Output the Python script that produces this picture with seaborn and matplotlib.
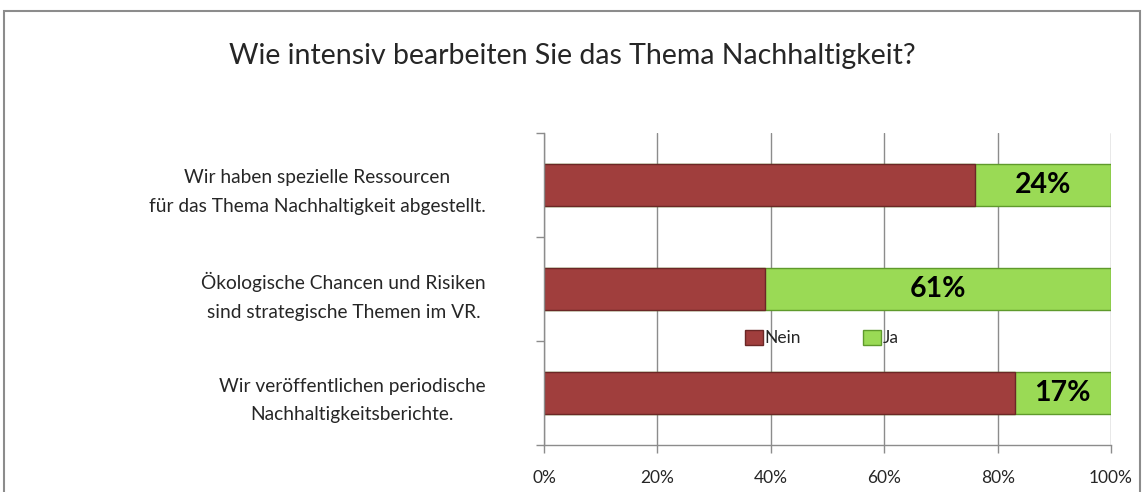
import matplotlib
matplotlib.use("Agg")
import matplotlib.pyplot as plt
import matplotlib.patches as mpatches
import seaborn as sns
import pandas as pd

# Daten (Anteile in %)
aussagen = [
    "Wir haben spezielle Ressourcen\nfür das Thema Nachhaltigkeit abgestellt.",
    "Ökologische Chancen und Risiken\nsind strategische Themen im VR.",
    "Wir veröffentlichen periodische\nNachhaltigkeitsberichte.",
]
nein = [76, 39, 83]
ja = [24, 61, 17]

titel = "Wie intensiv bearbeiten Sie das Thema Nachhaltigkeit?"
rot = "#A03E3D"
gruen = "#9ADA55"

sns.set_style("white")
plt.rcParams['font.family'] = ['Lato', 'DejaVu Sans']

df = pd.DataFrame({"Aussage": aussagen, "Nein": nein, "Ja": ja})
df["Total"] = df["Nein"] + df["Ja"]

fig = plt.figure(figsize=(11.42, 4.92), dpi=100)
ax = fig.add_axes([0.4764, 0.0955, 0.4965, 0.6342])

# Rahmen um die Grafik
fig.patches.append(mpatches.Rectangle((0.0035, -0.05), 0.9945, 1.028, transform=fig.transFigure,
                                      fill=False, edgecolor="#8c8c8c", linewidth=1.5))

# gestapelte Balken: erst Gesamt (grün), dann Nein (rot) darüber
sns.barplot(data=df, y="Aussage", x="Total", orient="h", color=gruen, width=0.4,
            edgecolor="#5f9a2c", linewidth=1, saturation=1, ax=ax)
sns.barplot(data=df, y="Aussage", x="Nein", orient="h", color=rot, width=0.4,
            edgecolor="#6b2726", linewidth=1, saturation=1, ax=ax)

# Prozentwerte auf den Ja-Segmenten
for i, (n, j) in enumerate(zip(nein, ja)):
    ax.text(n + j / 2, i, f"{j}%", ha="center", va="center",
            fontsize=20.5, fontweight="bold", color="black")

ax.set_xlim(0, 100)
ax.set_ylim(2.5, -0.5)
ax.set_xticks(range(0, 101, 20))
ax.set_xticklabels([f"{v}%" for v in range(0, 101, 20)], fontsize=12.5)
ax.set_yticks(range(len(aussagen)))
ax.set_yticklabels(aussagen, fontsize=13.8, multialignment="center", linespacing=1.85)
ax.set_yticks([-0.5, 0.5, 1.5, 2.5], minor=True)
ax.tick_params(axis="y", which="major", length=0, pad=42, left=True)
ax.tick_params(axis="y", which="minor", length=6, color="#8c8c8c", width=1,
               direction="out", left=True)
ax.tick_params(axis="x", length=6, color="#8c8c8c", width=1, direction="out",
               pad=12, bottom=True)
ax.set_xlabel("")
ax.set_ylabel("")

ax.grid(axis="x", color="#8c8c8c", linewidth=1)
ax.set_axisbelow(True)
for s in ["top", "right"]:
    ax.spines[s].set_visible(False)
for s in ["left", "bottom"]:
    ax.spines[s].set_color("#8c8c8c")
    ax.spines[s].set_linewidth(1)

fig.text(0.501, 0.887, titel, ha="center", va="center", fontsize=20.5)

handles = [mpatches.Patch(facecolor=rot, edgecolor="#6b2726", label="Nein"),
           mpatches.Patch(facecolor=gruen, edgecolor="#5f9a2c", label="Ja")]
ax.legend(handles=handles, loc="center", bbox_to_anchor=(0.49, 0.343), ncol=2,
          frameon=False, fontsize=12.5, handlelength=1.0, handleheight=1.0,
          handletextpad=0.1, columnspacing=3.6, borderpad=0)

fig.savefig("out.png", dpi=100)
